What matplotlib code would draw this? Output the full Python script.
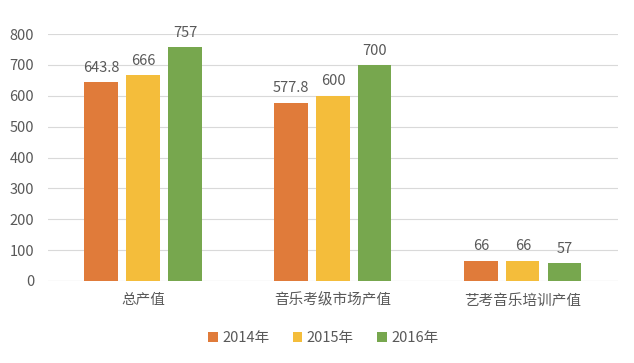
import matplotlib.pyplot as plt
import numpy as np

plt.rcParams['font.family'] = ['Noto Sans CJK SC', 'DejaVu Sans']

categories = ['总产值', '音乐考级市场产值', '艺考音乐培训产值']
years = ['2014年', '2015年', '2016年']
v2014 = [643.8, 577.8, 66]
v2015 = [666, 600, 66]
v2016 = [757, 700, 57]
labels2014 = ['643.8', '577.8', '66']
labels2015 = ['666', '600', '66']
labels2016 = ['757', '700', '57']
colors = ['#E07B3A', '#F4BD3B', '#77A74E']
text_color = '#595959'

fig = plt.figure(figsize=(6.34, 3.63), dpi=100)
ax = fig.add_axes([0.0757, 0.226, 0.899, 0.68])

x = np.arange(len(categories))
width = 0.174
step = 0.221
series = [(v2014, labels2014), (v2015, labels2015), (v2016, labels2016)]
handles = []
for i, (vals, labs) in enumerate(series):
    pos = x + (i - 1) * step
    b = ax.bar(pos, vals, width, color=colors[i], zorder=3, label=years[i])
    handles.append(b)
    for p, v, t in zip(pos, vals, labs):
        ax.text(p, v + 24, t, ha='center', va='bottom', fontsize=10.5, color=text_color)

ax.set_xlim(-0.5, 2.5)
ax.set_ylim(0, 800)
ax.set_yticks(range(0, 801, 100))
ax.yaxis.grid(True, color='#D9D9D9', linewidth=0.8, zorder=0)
ax.set_xticks(x)
ax.set_xticklabels(categories)
ax.tick_params(axis='both', length=0, colors=text_color, labelsize=10.5)
ax.tick_params(axis='x', pad=9)
ax.tick_params(axis='y', pad=10)
for s in ax.spines.values():
    s.set_visible(False)
ax.axhline(0, color='#D9D9D9', linewidth=0.8, zorder=2)

fig.legend(handles=handles, loc='center', bbox_to_anchor=(0.51, 0.068), ncol=3,
           frameon=False, fontsize=10.5, labelcolor=text_color,
           handlelength=0.65, handleheight=0.65, handletextpad=0.3, columnspacing=1.6)

fig.savefig('out.png', dpi=100)
